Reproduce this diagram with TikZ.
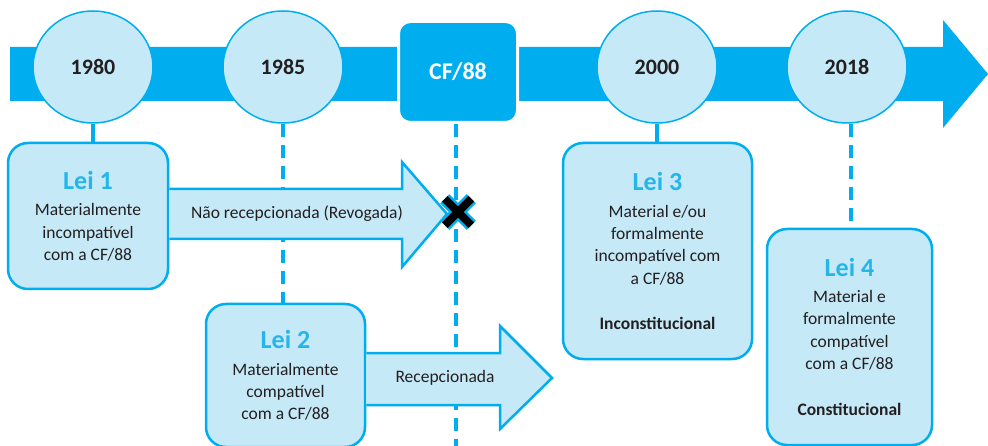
\documentclass[tikz,border=0pt]{standalone}
\usepackage{fontspec}
\setmainfont{Carlito}
\usepackage{xcolor}
\usepackage{tikz}
\usetikzlibrary{
    shapes.geometric,
    shapes.misc,
    positioning,
    calc
}
\definecolor{bandblue}{HTML}{00AEEF}
\definecolor{lightblue}{HTML}{C6E9F8}
\definecolor{leiblue}{HTML}{26B5EB}
\definecolor{textdark}{HTML}{231F20}
\newcommand{\yearfont}{\fontsize{22}{26}\selectfont\bfseries}
\newcommand{\bodyfont}{\fontsize{17.5}{22.3}\selectfont}
\newcommand{\leititle}[1]{{\fontsize{26}{30}\selectfont\bfseries\color{leiblue}#1}}

\begin{document}
\begin{tikzpicture}[
    x=1pt, y=-1pt,
    year/.style={
        ellipse,
        draw=bandblue,
        line width=1.5pt,
        fill=lightblue,
        minimum width=120pt,
        minimum height=112pt,
        inner sep=0pt,
        font=\yearfont,
        text=textdark
    },
    lei/.style={
        rectangle,
        rounded corners=20pt,
        draw=bandblue,
        line width=2.5pt,
        fill=lightblue,
        align=center,
        inner sep=0pt,
        font=\bodyfont,
        text=textdark
    },
    bigarrow/.style={draw=bandblue, line width=2.5pt, fill=lightblue},
    tie/.style={bandblue, line width=3.5pt},
    dashtie/.style={tie, dash pattern=on 13pt off 8pt},
    label/.style={font=\bodyfont, text=textdark}
]
\useasboundingbox (0,0) rectangle (988,446);

% Timeline band
\fill[bandblue] (10,47) -- (943,47) -- (943,20) -- (988,74) -- (943,128)
    -- (943,101) -- (10,101) -- cycle;

% Years
\node[year] (y1980) at (93,67) {1980};
\node[year] (y1985) at (283,67) {1985};
\node[year] (y2000) at (657,67) {2000};
\node[year] (y2018) at (847,67) {2018};
\node[rectangle, rounded corners=12pt, fill=bandblue, draw=white, line width=3pt,
    minimum width=119pt, minimum height=101pt, font=\fontsize{24}{28}\selectfont\bfseries,
    text=white] (cf) at (458,72) {CF/88};

% Laws
\node[lei, minimum width=160pt, minimum height=146pt] (lei1) at (88,216)
    {\leititle{Lei 1}\\[4.5pt]Materialmente\\incompatível\\com a CF/88};
\node[lei, minimum width=159pt, minimum height=143pt] (lei2) at (285.5,375.5)
    {\leititle{Lei 2}\\[4.5pt]Materialmente\\compatível\\com a CF/88};
\node[lei, minimum width=189pt, minimum height=216pt] (lei3) at (657.5,251)
    {\leititle{Lei 3}\\[4.5pt]Material e/ou\\formalmente\\incompatível com\\a CF/88\\[23.5pt]\textbf{Inconstitucional}};
\node[lei, minimum width=165pt, minimum height=216pt] (lei4) at (849.5,337)
    {\leititle{Lei 4}\\[3.5pt]Material e\\formalmente\\compatível\\com a CF/88\\[23.5pt]\textbf{Constitucional}};

% Ties to the timeline
\coordinate (cfend) at (456,446);
\coordinate (t2018) at (851,0);
\draw[tie] (y1980.south) -- (y1980.south |- lei1.north);
\draw[dashtie] (y1985.south) -- (y1985.south |- lei2.north);
\draw[dashtie] (cfend |- cf.south) -- (cfend);
\draw[tie] (y2000.south) -- (y2000.south |- lei3.north);
\draw[dashtie] (t2018 |- y2018.south) -- (t2018 |- lei4.north);

% Arrows
\draw[bigarrow] (lei1.east |- 0,189) -- (402,189) -- (402,162) -- (447,214)
    -- (402,267) -- (402,239) -- (lei1.east |- 0,239);
\node[label] (rev) at (297,214) {Não recepcionada (Revogada)};
\draw[bigarrow] (lei2.east |- 0,353) -- (500,353) -- (500,326) -- (552,378)
    -- (500,429) -- (500,405) -- (lei2.east |- 0,405);
\node[label] (rec) at (445,378) {Recepcionada};

% Revocation mark
\node[cross out, draw=bandblue, double=black, double distance=8pt, line width=2.5pt,
    minimum size=24pt, inner sep=0pt] (stop) at (458,212) {};

\end{tikzpicture}
\end{document}
